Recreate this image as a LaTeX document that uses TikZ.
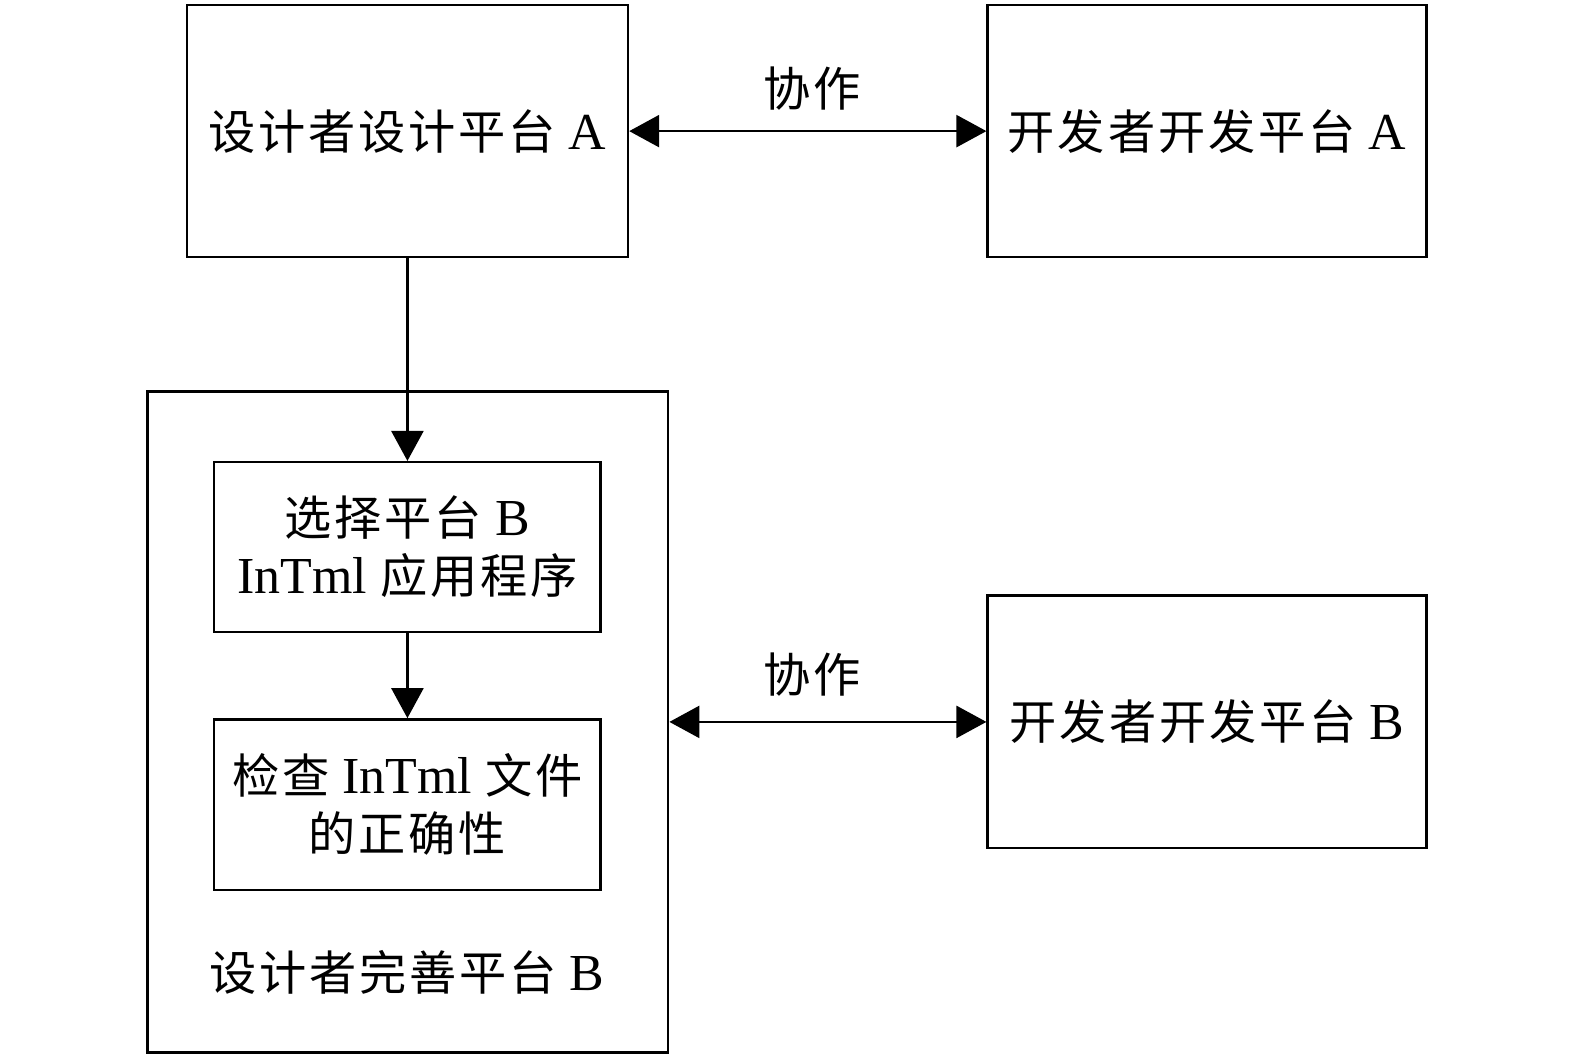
\documentclass[tikz,border=0pt]{standalone}
\usepackage{fontspec}
\setmainfont{Liberation Serif}[Scale=1.1]
\newfontfamily\cjk{Noto Sans CJK SC}[LetterSpace=6]
\usetikzlibrary{arrows.meta}
\newcommand{\zh}[1]{{\cjk #1}}
\begin{document}
\begin{tikzpicture}[x=1pt,y=-1pt,scale=1.0045,every node/.append style={transform shape},
  box/.style={draw,line width=2.5pt,rectangle,inner sep=0pt,align=center,
    font=\fontsize{47}{58}\selectfont},
  lbl/.style={inner sep=0pt,align=center,font=\fontsize{47}{58}\selectfont},
  conn/.style={line width=2.5pt,-{Triangle[length=30pt,width=32pt]}},
  bconn/.style={line width=2.5pt,{Triangle[length=30pt,width=32pt]}-{Triangle[length=30pt,width=32pt]}}]
\useasboundingbox (0,0) rectangle (1567.9,1052.3);
\node[box,minimum width=439pt,minimum height=251pt] (dA) at (405.5,130.5) {\zh{设计者设计平台} A};
\node[box,minimum width=437pt,minimum height=251pt] (vA) at (1201.5,130.5) {\zh{开发者开发平台} A};
\node[box,minimum width=518pt,minimum height=658pt] (outer) at (406,718.5) {};
\node[box,minimum width=385pt,minimum height=169pt] (b1) at (405.5,544.5) {\zh{选择平台} B\\InTml \zh{应用程序}};
\node[box,minimum width=385pt,minimum height=170pt] (b2) at (405.5,801) {\zh{检查} InTml \zh{文件}\\\zh{的正确性}};
\node[lbl] (ob) at (405,968) {\zh{设计者完善平台} B};
\node[box,minimum width=437pt,minimum height=251pt] (vB) at (1201.5,718.5) {\zh{开发者开发平台} B};
\node[lbl] (c1) at (808,88) {\zh{协作}};
\node[lbl] (c2) at (808,672) {\zh{协作}};
\draw[conn] (dA.south) -- (b1.north);
\draw[conn] (b1.south) -- (b2.north);
\draw[bconn] (dA.east) -- (vA.west);
\draw[bconn] (outer.east) -- (vB.west);
\end{tikzpicture}
\end{document}
